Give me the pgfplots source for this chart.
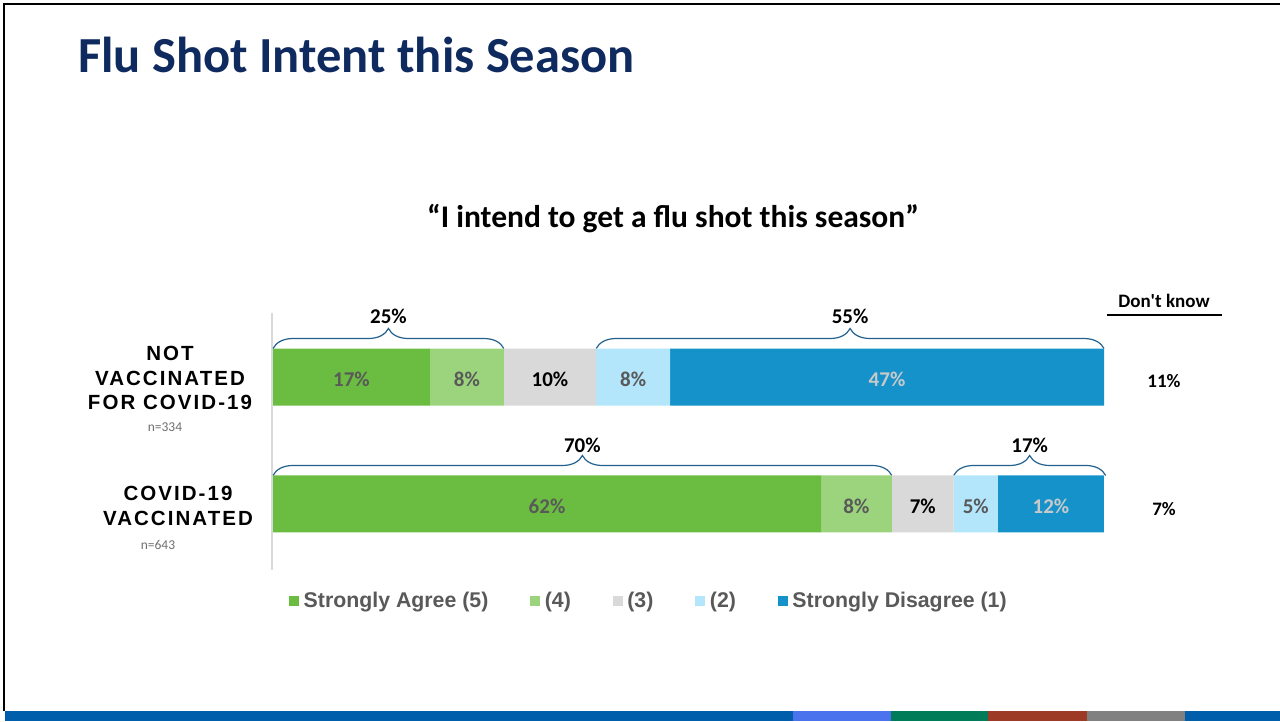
\documentclass[border=0pt]{standalone}
\usepackage{fontspec}
\setmainfont{Carlito}
\newfontfamily\arialf{Liberation Sans}
\newfontfamily\rowf{Liberation Sans}[LetterSpace=10]
\usepackage{pgfplots}
\usepackage{pgfplotstable}
\pgfplotsset{compat=1.18}
\usetikzlibrary{decorations.pathreplacing}

\definecolor{c5}{HTML}{6ABD40}
\definecolor{c4}{HTML}{9CD47E}
\definecolor{c3}{HTML}{D9D9D9}
\definecolor{c2}{HTML}{B3E6FB}
\definecolor{c1}{HTML}{1592CA}
\definecolor{navy}{HTML}{0E2A5E}
\definecolor{brc}{HTML}{22618E}
\definecolor{dgray}{HTML}{595959}
\definecolor{lgray}{HTML}{C9C9C9}
\definecolor{ngray}{HTML}{6F6F6F}
\definecolor{s1}{HTML}{005EAA}
\definecolor{s2}{HTML}{4B73EE}
\definecolor{s3}{HTML}{007D58}
\definecolor{s4}{HTML}{9C3A25}
\definecolor{s5}{HTML}{808080}

\pgfplotstableread{
row v5 v4 v3 v2 v1 tot dk
1 17 8 10 8 47 90 11
0 62 8 7 5 12 94 7
}\flu

\pgfplotsset{
  frame/.style={at={(273pt,-570pt)}, anchor=south west,
    scale only axis, width=831pt, height=257pt,
    xmin=0, xmax=100, ymin=-0.52, ymax=1.504,
    hide axis, clip=false},
  seg/.style={fill=#1, draw=none,
    legend image code/.code={\fill[#1] (0pt,-5pt) rectangle (10pt,5pt);}},
  lab/.style={draw=none, mark=none,
    nodes near coords={\pgfmathprintnumber[assume math mode=true]{\pgfplotspointmeta}\%},
    point meta=\thisrow{#1}},
}

\begin{document}
\begin{tikzpicture}
\useasboundingbox (0,0) rectangle (1280pt,-721pt);
\fill[white] (0,0) rectangle (1280pt,-721pt);
% slide frame
\draw[black, line width=2pt] (4pt,-711pt) -- (4pt,-4pt) -- (1280pt,-4pt);
% bottom stripe
\fill[s1] (5pt,-711pt) rectangle (793pt,-721pt);
\fill[s2] (793pt,-711pt) rectangle (891pt,-721pt);
\fill[s3] (891pt,-711pt) rectangle (988pt,-721pt);
\fill[s4] (988pt,-711pt) rectangle (1087pt,-721pt);
\fill[s5] (1087pt,-711pt) rectangle (1185pt,-721pt);
\fill[s1] (1185pt,-711pt) rectangle (1280pt,-721pt);
% titles
\node[anchor=base west, inner sep=0pt, text=navy, font=\bfseries\fontsize{50.5}{58}\selectfont] at (78pt,-72pt) {Flu Shot Intent this Season};
\node[anchor=center, inner sep=0pt, font=\bfseries\fontsize{31.5}{36}\selectfont] at (673pt,-219pt) {“I intend to get a flu shot this season”};
% category axis line
\draw[c3, line width=1.5pt] (272pt,-313pt) -- (272pt,-570pt);

% ---- stacked bars
\begin{axis}[frame,
  xbar stacked, bar width=57pt,
  legend columns=5,
  legend style={at={(0.0193,-0.1206)}, anchor=west, draw=none, fill=none,
     inner sep=0pt, font=\arialf\bfseries\fontsize{21.3}{22}\selectfont,
     nodes={text=dgray, inner sep=1.5pt},
     /tikz/every odd column/.append style={column sep=3pt},
     /tikz/every even column/.append style={column sep=40.5pt}},
]
\addplot[seg=c5] table[x expr=\thisrow{v5}/\thisrow{tot}*100, y=row] {\flu};
\addlegendentry{Strongly Agree (5)}
\addplot[seg=c4] table[x expr=\thisrow{v4}/\thisrow{tot}*100, y=row] {\flu};
\addlegendentry{(4)}
\addplot[seg=c3] table[x expr=\thisrow{v3}/\thisrow{tot}*100, y=row] {\flu};
\addlegendentry{(3)}
\addplot[seg=c2] table[x expr=\thisrow{v2}/\thisrow{tot}*100, y=row] {\flu};
\addlegendentry{(2)}
\addplot[seg=c1] table[x expr=\thisrow{v1}/\thisrow{tot}*100, y=row] {\flu};
\addlegendentry{Strongly Disagree (1)}

% braces: top-2 and bottom-2 boxes
\draw[brc, line width=1.2pt, decorate, decoration={brace, amplitude=20pt}]
  (axis cs:0,1.2244) -- (axis cs:27.78,1.2244);
\node[font=\bfseries\fontsize{21}{21}\selectfont] at (axis cs:13.89,1.2244) [yshift=32pt] {25\%};
\draw[brc, line width=1.2pt, decorate, decoration={brace, amplitude=20pt}]
  (axis cs:38.89,1.2244) -- (axis cs:100,1.2244);
\node[font=\bfseries\fontsize{21}{21}\selectfont] at (axis cs:69.44,1.2244) [yshift=32pt] {55\%};
\draw[brc, line width=1.2pt, decorate, decoration={brace, amplitude=20pt}]
  (axis cs:0,0.2244) -- (axis cs:74.47,0.2244);
\node[font=\bfseries\fontsize{21}{21}\selectfont] at (axis cs:37.23,0.2244) [yshift=30pt] {70\%};
\draw[brc, line width=1.2pt, decorate, decoration={brace, amplitude=20pt}]
  (axis cs:81.91,0.2244) -- (axis cs:100.2,0.2244);
\node[font=\bfseries\fontsize{21}{21}\selectfont] at (axis cs:91.06,0.2244) [yshift=30pt] {17\%};
\end{axis}

% ---- value labels at the middle of each segment
\begin{axis}[frame,
  every node near coord/.append style={anchor=center, inner sep=0pt, yshift=-2pt,
     font=\bfseries\fontsize{21}{21}\selectfont},
]
\addplot[lab=v5, every node near coord/.append style={text=dgray}]
  table[x expr=0.5*\thisrow{v5}/\thisrow{tot}*100, y=row] {\flu};
\addplot[lab=v4, every node near coord/.append style={text=dgray}]
  table[x expr=(\thisrow{v5}+0.5*\thisrow{v4})/\thisrow{tot}*100, y=row] {\flu};
\addplot[lab=v3, every node near coord/.append style={text=black}]
  table[x expr=(\thisrow{v5}+\thisrow{v4}+0.5*\thisrow{v3})/\thisrow{tot}*100, y=row] {\flu};
\addplot[lab=v2, every node near coord/.append style={text=dgray}]
  table[x expr=(\thisrow{v5}+\thisrow{v4}+\thisrow{v3}+0.5*\thisrow{v2})/\thisrow{tot}*100, y=row] {\flu};
\addplot[lab=v1, every node near coord/.append style={text=lgray}]
  table[x expr=(\thisrow{tot}-0.5*\thisrow{v1})/\thisrow{tot}*100, y=row] {\flu};
\end{axis}

% row labels
\node[align=center, inner sep=0pt, font=\rowf\bfseries\fontsize{20.5}{24.5}\selectfont] at (170pt,-378pt) {NOT\\VACCINATED\\FOR COVID-19};
\node[inner sep=0pt, text=ngray, font=\fontsize{13.5}{14}\selectfont] at (165pt,-427pt) {n=334};
\node[align=center, inner sep=0pt, font=\rowf\bfseries\fontsize{20.5}{24.5}\selectfont] at (178pt,-506pt) {COVID-19\\VACCINATED};
\node[inner sep=0pt, text=ngray, font=\fontsize{13.5}{14}\selectfont] at (158pt,-545pt) {n=643};
% don't know column
\node[inner sep=0pt, font=\bfseries\fontsize{19}{19}\selectfont] at (1164pt,-301pt) {Don\textquotesingle t know};
\draw[black, line width=1.3pt] (1107pt,-315pt) -- (1222pt,-315pt);
\node[inner sep=0pt, font=\bfseries\fontsize{19}{19}\selectfont] at (1164pt,-381pt) {11\%};
\node[inner sep=0pt, font=\bfseries\fontsize{19}{19}\selectfont] at (1164pt,-509pt) {7\%};
\end{tikzpicture}
\end{document}
